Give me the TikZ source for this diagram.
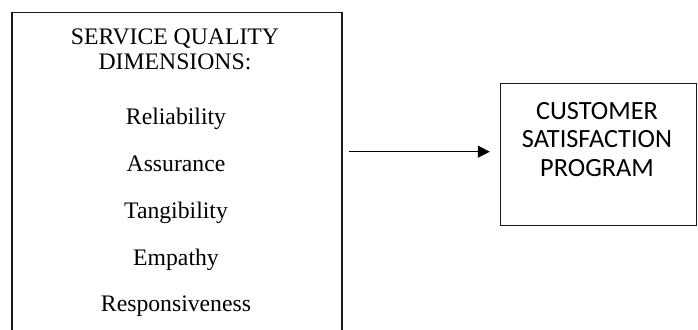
\documentclass[tikz,border=0pt]{standalone}
\usepackage{fontspec}
\setmainfont{Liberation Serif}
\newfontfamily\calfont{Carlito}
\usetikzlibrary{arrows.meta}
\begin{document}
\begin{tikzpicture}[x=1pt,y=-1pt,
  boxline/.style={draw=black!90, line width=1.4pt},
  lefttext/.style={anchor=base, inner sep=0pt, font=\fontsize{23.7}{28}\selectfont},
  righttext/.style={anchor=base, inner sep=0pt, font=\calfont\fontsize{26.3}{30}\selectfont},
  flow/.style={draw=black, line width=1pt, -{Triangle[length=12pt,width=12pt]}}]
\useasboundingbox (0,0) rectangle (698,329);
\clip (0,0) rectangle (698,329);
\fill[white] (0,0) rectangle (698,329);
% left box (bottom edge lies below the page)
\node[boxline, minimum width=330pt, minimum height=340pt, inner sep=0pt] (lbox) at (177,182.7) {};
\node[lefttext] (l1) at (175,45) {SERVICE QUALITY};
\node[lefttext] (l2) at (175,70) {DIMENSIONS:};
\node[lefttext] (l3) at (176,124.3) {Reliability};
\node[lefttext] (l4) at (176,171) {Assurance};
\node[lefttext] (l5) at (176,218) {Tangibility};
\node[lefttext] (l6) at (176,265) {Empathy};
\node[lefttext] (l7) at (176,311) {Responsiveness};
% right box
\node[boxline, minimum width=196pt, minimum height=142pt, inner sep=0pt] (rbox) at (598.5,154.6) {};
\node[righttext] (r1) at (597,119.3) {CUSTOMER};
\node[righttext] (r2) at (597,147.3) {SATISFACTION};
\node[righttext] (r3) at (597,176) {PROGRAM};
% arrow
\coordinate (ay) at (0,151.7);
\draw[flow, shorten <=6pt, shorten >=10pt] (lbox.east |- ay) -- (rbox.west |- ay);
\end{tikzpicture}
\end{document}
